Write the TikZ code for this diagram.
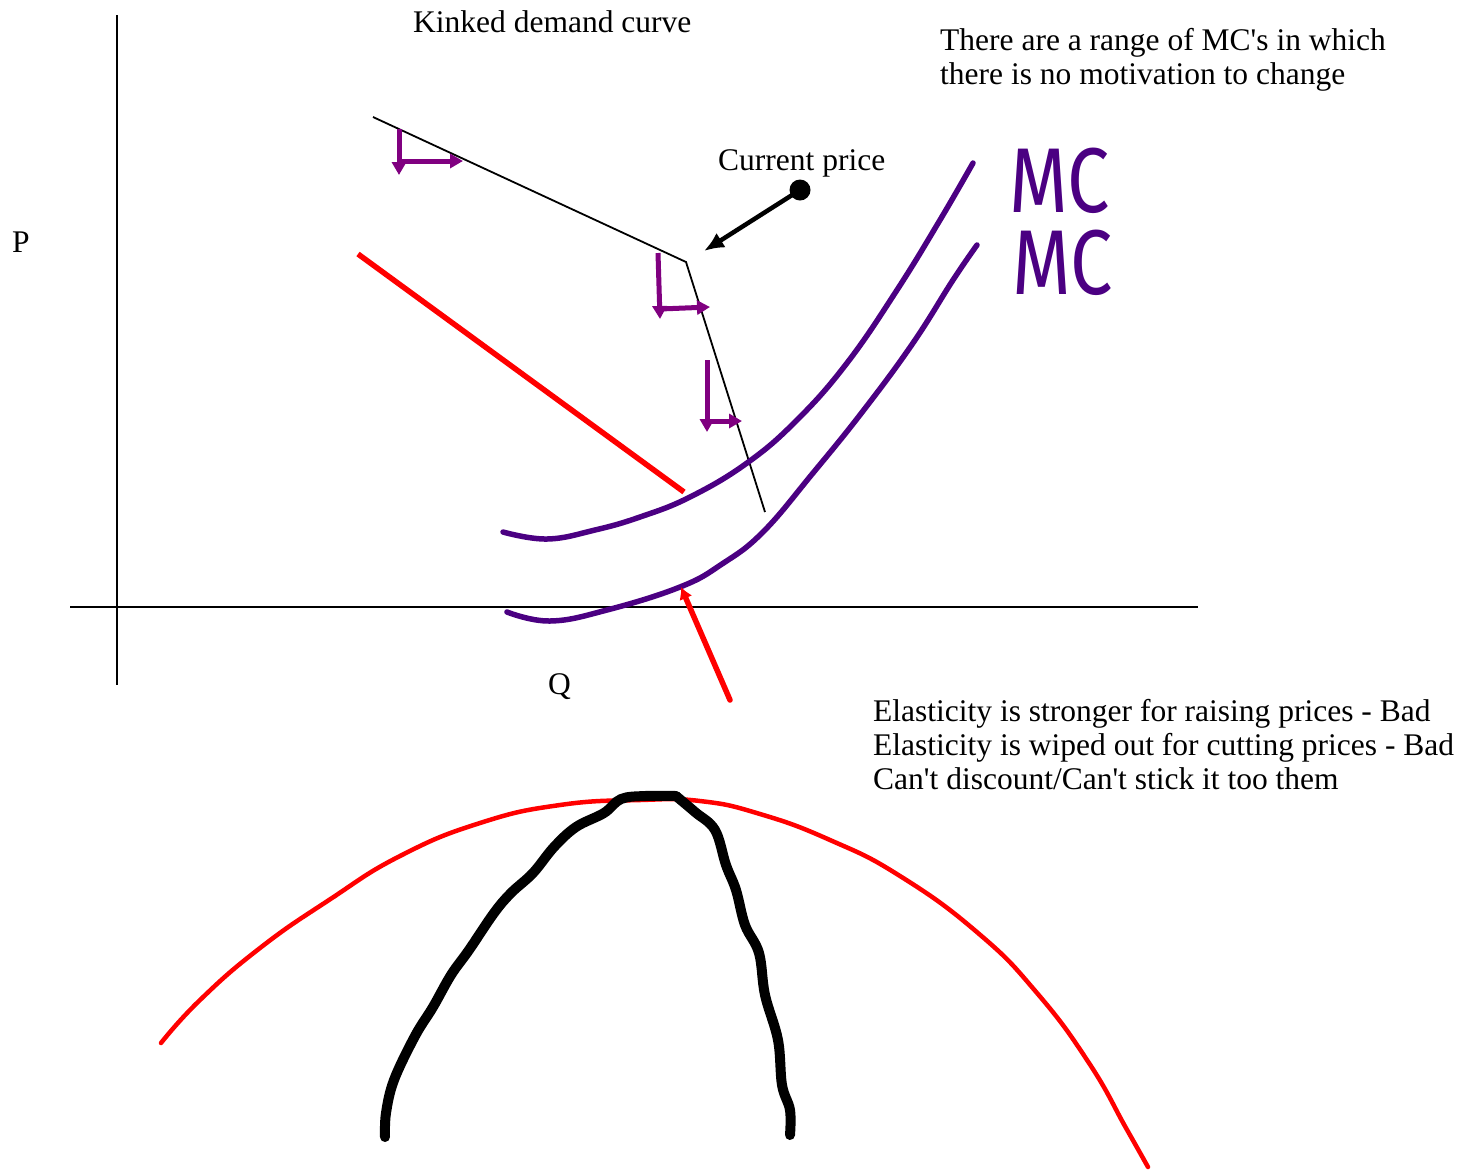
\documentclass[tikz,border=0pt]{standalone}
\usepackage{fontspec}
\setmainfont{Liberation Serif}
\newfontfamily\mcfont{Fira Sans}
\usetikzlibrary{arrows.meta}
\definecolor{mcpurple}{RGB}{75,0,130}
\definecolor{lpurple}{RGB}{128,0,128}
\begin{document}
\begin{tikzpicture}[x=1pt,y=-1pt,
  txt/.style={inner sep=0pt, anchor=base west, font=\fontsize{31.5}{34}\selectfont},
  mctxt/.style={inner sep=0pt, text=mcpurple, font=\mcfont\fontsize{92}{82}\selectfont},
  axisline/.style={line width=2pt},
  demand/.style={line width=1.8pt},
  lmark/.style={draw=lpurple, line width=5pt, -{Triangle[length=13pt,width=14pt]}},
  mccurve/.style={draw=mcpurple, line width=5.5pt, line cap=round, line join=round},
  redline/.style={draw=red, line width=5.5pt},
  blackhand/.style={draw=black, line width=10pt, line cap=round, line join=round},
  redhand/.style={draw=red, line width=4.5pt, line cap=round, line join=round}
]
\useasboundingbox (0,0) rectangle (1464,1171);

% axes
\coordinate (ytop) at (117,15);
\coordinate (ybot) at (117,685);
\coordinate (xl) at (70,607);
\coordinate (xr) at (1198,607);
\draw[axisline] (ytop) -- (ybot);
\draw[axisline] (xl) -- (xr);

% texts
\node[txt] (title) at (413,32) {Kinked demand curve};
\node[txt] (plabel) at (12,252) {P};
\node[txt] (qlabel) at (548,694) {Q};
\node[txt] (cp) at (718,170) {Current price};
\node[txt] (rng1) at (940,50) {There are a range of MC\textquotesingle s in which};
\node[txt] (rng2) at (940,84) {there is no motivation to change};
\node[txt] (el1) at (873,721) {Elasticity is stronger for raising prices - Bad};
\node[txt] (el2) at (873,755) {Elasticity is wiped out for cutting prices - Bad};
\node[txt] (el3) at (873,789) {Can\textquotesingle t discount/Can\textquotesingle t stick it too them};

% kinked demand curve
\coordinate (d1) at (373,117);
\coordinate (kink) at (686,262);
\coordinate (d2) at (765,512);
\draw[demand] (d1) -- (kink) -- (d2);

% purple L marks
\coordinate (l1t) at (399,129); \coordinate (l1b) at (399,175);
\coordinate (l1s) at (399,161); \coordinate (l1r) at (463,161);
\draw[lmark] (l1t) -- (l1b);
\draw[lmark] (l1s) -- (l1r);
\coordinate (l2t) at (658,253); \coordinate (l2b) at (660,319);
\coordinate (l2s) at (660,309); \coordinate (l2r) at (710,307);
\draw[lmark] (l2t) -- (l2b);
\draw[lmark] (l2s) -- (l2r);
\coordinate (l3t) at (707,360); \coordinate (l3b) at (707,432);
\coordinate (l3s) at (707,421); \coordinate (l3r) at (742,421);
\draw[lmark] (l3t) -- (l3b);
\draw[lmark] (l3s) -- (l3r);

% current price pointer
\node[circle, fill=black, inner sep=0pt, minimum size=21pt] (dot) at (800,190) {};
\coordinate (cptip) at (704,251);
\draw[line width=4.5pt, -{Latex[length=20pt,width=17pt]}] (dot.center) -- (cptip);

% red line
\coordinate (r1) at (358,254);
\coordinate (r2) at (684,492);
\draw[redline] (r1) -- (r2);

% MC curves
\draw[mccurve] plot[smooth, tension=0.7] coordinates {(503,532) (547,539) (595,530) (640,517) (690,497) (747,463) (797,420) (847,363) (897,290) (940,220) (973,163)};
\draw[mccurve] plot[smooth, tension=0.7] coordinates {(507,612) (550,621) (607,610) (680,587) (722,564) (763,532) (813,473) (863,411) (913,343) (953,280) (977,245)};
\node[mctxt, anchor=south west] (mc) at (1009,296) {\vbox{\baselineskip=82pt\hbox{\scalebox{0.82}[1]{MC}}\hbox{\kern3pt\scalebox{0.82}[1]{MC}}}};

% red arrow
\coordinate (ratail) at (730,700);
\coordinate (ratip) at (681,587);
\draw[redline, line cap=round, -{Latex[length=12pt,width=14pt]}] (ratail) -- (ratip);

% bottom hand-drawn curves
\draw[redhand] plot[smooth, tension=0.8] coordinates {(161,1043) (200,1000) (260,948) (329,900) (400,856) (480,823) (560,805) (640,800) (700,801) (760,814) (830,840) (900,876) (978,933) (1037,993) (1089,1063) (1126,1128) (1148,1167)};
\draw[blackhand] plot[smooth, tension=0.6] coordinates {(385,1137) (386,1113) (394,1080) (415,1036) (433,1007) (451,975) (469,950) (494,913) (511,893) (533,873) (554,847) (576,827) (604,813) (621,799) (645,796) (676,796)};
\draw[blackhand] plot[smooth, tension=0.6] coordinates {(676,796) (695,812) (715,830) (726,865) (736,890) (745,925) (759,953) (765,995) (778,1040) (782,1085) (790,1110) (790,1135)};
\end{tikzpicture}
\end{document}
